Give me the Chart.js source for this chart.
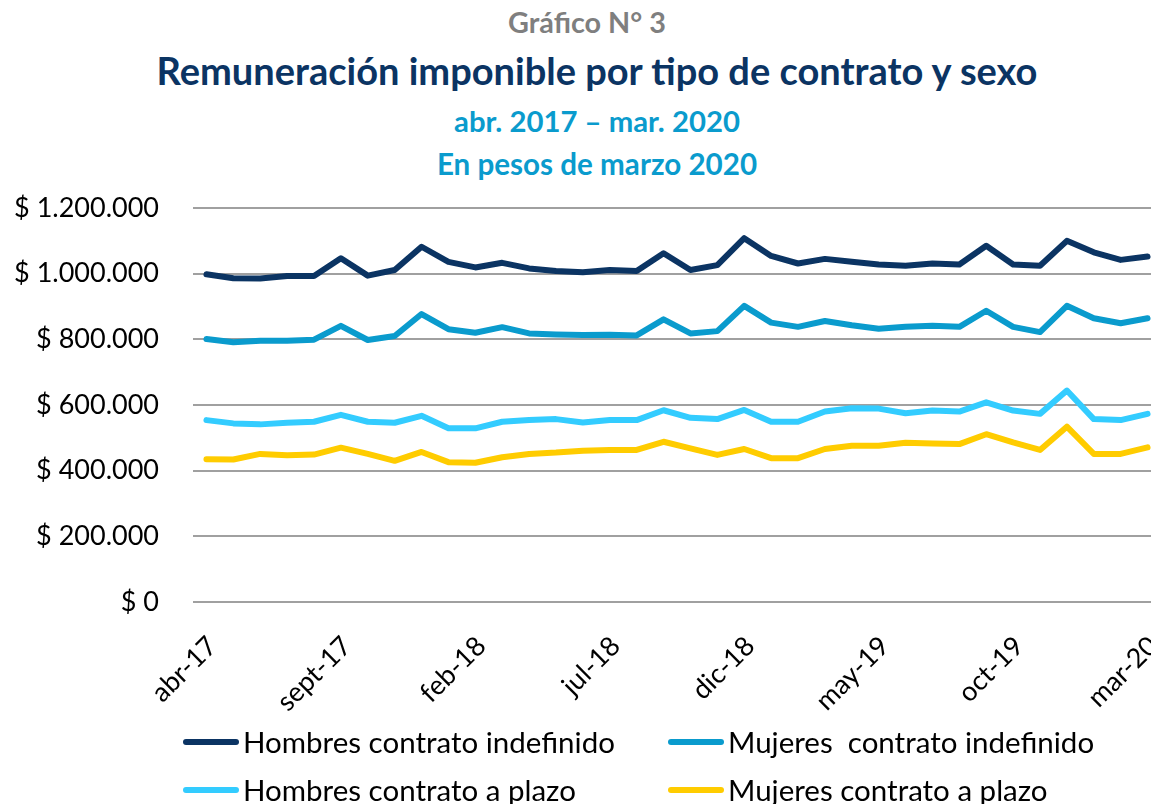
<!DOCTYPE html>
<html lang="es">
<head>
<meta charset="utf-8">
<script src="https://cdn.jsdelivr.net/npm/chart.js@4.4.1/dist/chart.umd.min.js"></script>
<style>
  html, body { margin: 0; padding: 0; background: #fff; }
  body { width: 1151px; height: 804px; overflow: hidden; position: relative; font-family: Lato, "Open Sans", sans-serif; }
  .t { position: absolute; left: 0; width: 1194px; text-align: center; font-weight: bold; white-space: nowrap; line-height: 1; }
  #t1 { top: 8px; font-size: 28.8px; color: #7f7f7f; left: -10px; }
  #t2 { top: 51px; font-size: 38px; color: #0b3463; }
  #t3 { top: 106px; font-size: 29.3px; color: #0a9bcd; }
  #t4 { top: 149px; font-size: 29.6px; color: #0a9bcd; }
  canvas#c { position: absolute; left: 0; top: 0; }
  .lg { position: absolute; display: flex; align-items: center; font-size: 29.5px; color: #000; white-space: nowrap; line-height: 1; }
  .lg span.ln { display: inline-block; width: 56px; height: 6px; border-radius: 3px; margin-right: 4px; }
</style>
</head>
<body>
<div class="t" id="t1">Gráfico N° 3</div>
<div class="t" id="t2">Remuneración imponible por tipo de contrato y sexo</div>
<div class="t" id="t3">abr. 2017 – mar. 2020</div>
<div class="t" id="t4">En pesos de marzo 2020</div>
<canvas id="c" width="1161" height="804"></canvas>
<div id="legend"></div>
<script>
const months = ["abr-17","may-17","jun-17","jul-17","ago-17","sept-17","oct-17","nov-17","dic-17",
  "ene-18","feb-18","mar-18","abr-18","may-18","jun-18","jul-18","ago-18","sept-18","oct-18","nov-18","dic-18",
  "ene-19","feb-19","mar-19","abr-19","may-19","jun-19","jul-19","ago-19","sept-19","oct-19","nov-19","dic-19",
  "ene-20","feb-20","mar-20"];

const hombresIndefinido = [998000, 986000, 985000, 993000, 993000, 1047000, 994000, 1011000, 1082000, 1036000, 1019000, 1033000, 1016000, 1008000, 1004000, 1011000, 1008000, 1062000, 1011000, 1026000, 1108000, 1054000, 1031000, 1045000, 1036000, 1028000, 1024000, 1031000, 1028000, 1085000, 1028000, 1024000, 1100000, 1065000, 1042000, 1052000];
const mujeresIndefinido = [801000, 791000, 796000, 796000, 799000, 841000, 798000, 810000, 877000, 831000, 820000, 837000, 818000, 815000, 813000, 814000, 812000, 861000, 818000, 825000, 902000, 851000, 838000, 856000, 843000, 832000, 838000, 841000, 838000, 887000, 838000, 822000, 902000, 864000, 849000, 864000];
const hombresPlazo = [554000, 544000, 541000, 546000, 549000, 570000, 549000, 546000, 567000, 529000, 529000, 549000, 554000, 557000, 547000, 554000, 554000, 584000, 561000, 557000, 585000, 549000, 549000, 580000, 590000, 589000, 575000, 583000, 580000, 608000, 583000, 573000, 644000, 557000, 554000, 573000];
const mujeresPlazo = [435000, 434000, 451000, 447000, 449000, 470000, 451000, 430000, 457000, 426000, 424000, 441000, 451000, 455000, 461000, 463000, 463000, 488000, 468000, 448000, 466000, 438000, 438000, 466000, 476000, 476000, 485000, 483000, 481000, 511000, 486000, 463000, 534000, 451000, 451000, 471000];

const seriesNames = ["Hombres contrato indefinido", "Mujeres  contrato indefinido", "Hombres contrato a plazo", "Mujeres contrato a plazo"];
const seriesColors = ["#0b3463", "#0a9bcd", "#33ccff", "#ffcc00"];
const yTicks = [0, 200000, 400000, 600000, 800000, 1000000, 1200000];

function fmt(v) {
  return "$ " + String(Math.round(v)).replace(/\B(?=(\d{3})+(?!\d))/g, ".");
}

const seriesData = [hombresIndefinido, mujeresIndefinido, hombresPlazo, mujeresPlazo];
const datasets = seriesData.map((d, i) => ({
  label: seriesNames[i],
  data: d,
  borderColor: seriesColors[i],
  backgroundColor: seriesColors[i],
  borderWidth: 6,
  pointRadius: 0,
  tension: 0,
  borderJoinStyle: "round",
  borderCapStyle: "round",
  fill: false
}));

const chart = new Chart(document.getElementById("c"), {
  type: "line",
  data: { labels: months, datasets },
  options: {
    responsive: false,
    devicePixelRatio: 1,
    animation: false,
    layout: { padding: { top: 208, left: 12, right: 0, bottom: 0 } },
    plugins: { legend: { display: false }, title: { display: false }, tooltip: { enabled: false } },
    scales: {
      x: {
        offset: true,
        grid: { display: false, drawTicks: false },
        border: { display: false },
        ticks: {
          autoSkip: false,
          maxRotation: 45,
          minRotation: 45,
          padding: 28,
          labelOffset: 6,
          color: "#000",
          font: { family: "Lato", size: 27 },
          callback: function(val, idx) { return idx % 5 === 0 ? months[idx] : ""; }
        },
        afterFit: function(s) { s.height = 202; s.paddingLeft = 0; s.paddingRight = 0; }
      },
      y: {
        min: 0,
        max: 1200000,
        afterBuildTicks: function(s) { s.ticks = yTicks.map(v => ({ value: v })); },
        grid: { color: "#a0a0a0", lineWidth: 2, drawTicks: false },
        border: { display: false },
        ticks: {
          padding: 34,
          color: "#000",
          font: { family: "Lato", size: 27 },
          callback: function(v) { return fmt(v); }
        },
        afterFit: function(s) { s.width = 181; }
      }
    }
  }
});

// HTML legend built from the chart's datasets
const legend = document.getElementById("legend");
const pos = [[183, 742], [668, 742], [183, 790], [668, 790]];
chart.data.datasets.forEach((ds, i) => {
  const item = document.createElement("div");
  item.className = "lg";
  item.style.left = pos[i][0] + "px";
  item.style.top = (pos[i][1] - 15) + "px";
  item.style.height = "30px";
  const ln = document.createElement("span");
  ln.className = "ln";
  ln.style.background = ds.borderColor;
  const tx = document.createElement("span");
  tx.textContent = ds.label;
  tx.style.whiteSpace = "pre";
  item.appendChild(ln);
  item.appendChild(tx);
  legend.appendChild(item);
});
</script>
</body>
</html>
